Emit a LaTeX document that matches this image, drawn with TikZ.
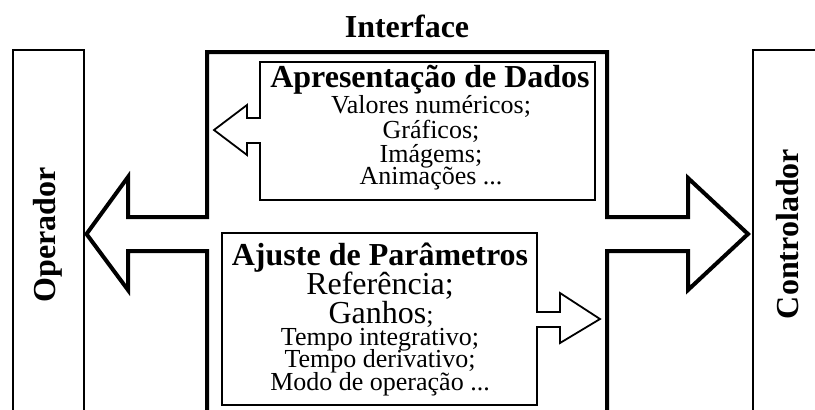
\documentclass[tikz,border=0pt]{standalone}
\usepackage{fontspec}
\setmainfont{Liberation Serif}
\newcommand{\etcdots}{...}
\begin{document}
\begin{tikzpicture}[
    x=1pt, y=-1pt,
    thickline/.style = {draw, line width=4pt, line join=miter},
    thinline/.style = {draw, line width=1.8pt, line join=miter},
    heading/.style = {font=\fontsize{32}{34}\selectfont\bfseries, anchor=base},
    entry/.style = {font=\fontsize{26}{28}\selectfont, anchor=base},
    bigentry/.style = {font=\fontsize{32}{34}\selectfont, anchor=base},
    side/.style = {font=\fontsize{32}{34}\selectfont\bfseries, rotate=90}
]
\useasboundingbox (0,0) rectangle (815,410);

% operator and controller blocks
\draw[thinline] (13,420) -- (13,50) -- (84,50) -- (84,420);
\draw[thinline] (753,420) -- (753,50) -- (830,50);
\node[side] (operador) at (48,235) {Operador};
\node[side] (controlador) at (788,234) {Controlador};

% interface double arrow
\draw[thickline] (207,420) -- (207,251) -- (128,251) -- (128,290) -- (86.5,234)
    -- (128,177) -- (128,217) -- (207,217) -- (207,52) -- (607,52) -- (607,217)
    -- (688,217) -- (688,178) -- (748,234) -- (688,290) -- (688,251) -- (607,251)
    -- (607,420);
\node[heading] (interface) at (407,37) {Interface};

% data presentation box
\draw[thinline] (260,118) -- (260,62) -- (595,62) -- (595,200) -- (260,200)
    -- (260,143) -- (247,143) -- (247,155) -- (214,130) -- (247,105) -- (247,118) -- cycle;
\node[heading] (dados) at (430,87) {Apresentação de Dados};
\foreach \txt/\yy [count=\i] in {Valores numéricos;/113, Gráficos;/138, Imágems;/162, Animações \etcdots/184}
    \node[entry] (dado\i) at (431,\yy) {\txt};

% parameter adjustment box
\draw[thinline] (537,312) -- (560,312) -- (560,293) -- (600,319) -- (560,343)
    -- (560,327) -- (537,327) -- (537,405) -- (222,405) -- (222,233) -- (537,233) -- cycle;
\node[heading] (ajuste) at (380,265) {Ajuste de Parâmetros};
\node[bigentry] (referencia) at (380,294) {Referência;};
\node[bigentry] (ganhos) at (381,323) {Ganhos{\fontsize{26}{28}\selectfont;}};
\foreach \txt/\yy [count=\i] in {Tempo integrativo;/345, Tempo derivativo;/367, Modo de operação \etcdots/390}
    \node[entry] (param\i) at (380,\yy) {\txt};
\end{tikzpicture}
\end{document}
